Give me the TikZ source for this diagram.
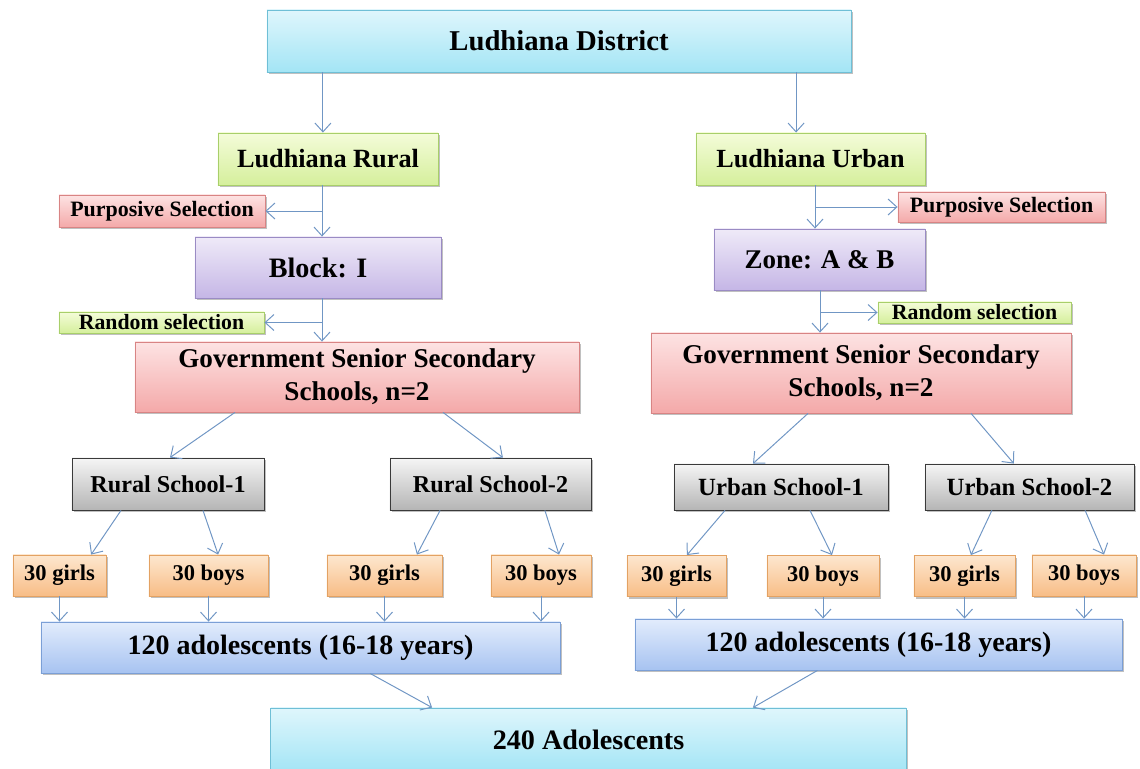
\documentclass[tikz,border=0pt]{standalone}
\usepackage{fontspec}
\setmainfont{Liberation Serif}
\usepackage{tikz}
\usetikzlibrary{arrows.meta,shadows}

\definecolor{arrcol}{RGB}{112,150,196}
\definecolor{cyanT}{HTML}{DFF6FC}\definecolor{cyanB}{HTML}{A3E5F5}\definecolor{cyanD}{HTML}{6FBFD6}
\definecolor{grnT}{HTML}{F4FCD9}\definecolor{grnB}{HTML}{D5EF9C}\definecolor{grnD}{HTML}{A8CF6A}
\definecolor{redT}{HTML}{FDE3E3}\definecolor{redB}{HTML}{F4A9A9}\definecolor{redD}{HTML}{D88484}
\definecolor{purT}{HTML}{EFEAF8}\definecolor{purB}{HTML}{C5B6E6}\definecolor{purD}{HTML}{9A8BC4}
\definecolor{gryT}{HTML}{F5F5F5}\definecolor{gryB}{HTML}{B5B5B5}\definecolor{gryD}{HTML}{3A3A3A}
\definecolor{orgT}{HTML}{FDE7CF}\definecolor{orgB}{HTML}{F8BD86}\definecolor{orgD}{HTML}{E3A263}
\definecolor{bluT}{HTML}{E2ECFC}\definecolor{bluB}{HTML}{A7C3F1}\definecolor{bluD}{HTML}{7B9FD6}

\begin{document}
\begin{tikzpicture}[
  x=0.025cm, y=-0.025cm,
  font=\bfseries,
  box/.style={rectangle, inner sep=0pt, align=center, line width=0.6pt,
    drop shadow={shadow xshift=1.6pt, shadow yshift=-1.6pt, fill=black!45, opacity=0.55}},
  cyanbox/.style={box, draw=cyanD, top color=cyanT, bottom color=cyanB},
  grnbox/.style={box, draw=grnD, top color=grnT, bottom color=grnB},
  redbox/.style={box, draw=redD, top color=redT, bottom color=redB},
  purbox/.style={box, draw=purD, top color=purT, bottom color=purB},
  grybox/.style={box, draw=gryD, top color=gryT, bottom color=gryB},
  orgbox/.style={box, draw=orgD, top color=orgT, bottom color=orgB},
  blubox/.style={box, draw=bluD, top color=bluT, bottom color=bluB},
  arr/.style={-{Straight Barb[length=2.2mm, width=4mm]}, arrcol, line width=0.7pt}
]
\useasboundingbox (0,0) rectangle (1140,769);

% top level
\node[cyanbox, minimum width=14.6cm, minimum height=1.55cm, font=\fontsize{20.4}{24}\selectfont\bfseries] (district) at (559,41) {Ludhiana District};
\node[grnbox, minimum width=5.5cm, minimum height=1.3cm, font=\fontsize{18.7}{22}\selectfont\bfseries] (rural) at (328,159) {Ludhiana Rural};
\node[grnbox, minimum width=5.725cm, minimum height=1.3cm, font=\fontsize{18.6}{22}\selectfont\bfseries] (urban) at (810.5,159) {Ludhiana Urban};

% selection steps
\node[redbox, minimum width=5.15cm, minimum height=0.8cm, font=\fontsize{15.6}{18}\selectfont\bfseries] (purpL) at (162,211) {Purposive Selection};
\node[purbox, minimum width=6.15cm, minimum height=1.525cm, font=\fontsize{20}{24}\selectfont\bfseries] (block) at (318,267.5) {Block: I};
\node[grnbox, minimum width=5.125cm, minimum height=0.525cm, font=\fontsize{15.5}{18}\selectfont\bfseries] (randL) at (161.5,322.5) {Random selection};
\node[redbox, minimum width=11.1cm, minimum height=1.75cm, font=\fontsize{19.3}{23.5}\selectfont\bfseries] (gsssL) at (357,377) {Government Senior Secondary\\Schools, n=2};

\node[redbox, minimum width=5.175cm, minimum height=0.75cm, font=\fontsize{15.6}{18}\selectfont\bfseries] (purpR) at (1001.5,207) {Purposive Selection};
\node[purbox, minimum width=5.275cm, minimum height=1.525cm, font=\fontsize{19.2}{23}\selectfont\bfseries] (zone) at (819.5,259.5) {Zone: A \& B};
\node[grnbox, minimum width=4.825cm, minimum height=0.525cm, font=\fontsize{15.5}{18}\selectfont\bfseries] (randR) at (974.5,312.5) {Random selection};
\node[redbox, minimum width=10.5cm, minimum height=2.0cm, font=\fontsize{19.3}{23.5}\selectfont\bfseries] (gsssR) at (861,373) {Government Senior Secondary\\Schools, n=2};

\coordinate (lcol) at (322,0);
\coordinate (rcolA) at (815,0);
\coordinate (rcolB) at (820,0);

\draw[arr] ([xshift=-5.9cm]district.south) -- ([xshift=-5.9cm]district.south |- rural.north);
\draw[arr] ([xshift=5.925cm]district.south) -- ([xshift=5.925cm]district.south |- urban.north);

\draw[arr] (rural.south -| lcol) -- (block.north -| lcol);
\draw[arr] (lcol |- purpL.east) -- (purpL.east);
\draw[arr] (block.south -| lcol) -- (gsssL.north -| lcol);
\draw[arr] (lcol |- randL.east) -- (randL.east);

\draw[arr] (urban.south -| rcolA) -- (zone.north -| rcolA);
\draw[arr] (rcolA |- purpR.west) -- (purpR.west);
\draw[arr] (zone.south -| rcolB) -- (gsssR.north -| rcolB);
\draw[arr] (rcolB |- randR.west) -- (randR.west);

% schools
\node[grybox, minimum width=4.8cm, minimum height=1.3cm, font=\fontsize{17.2}{20}\selectfont\bfseries] (rs1) at (168,484) {Rural School-1};
\node[grybox, minimum width=5.025cm, minimum height=1.3cm, font=\fontsize{17.2}{20}\selectfont\bfseries] (rs2) at (490.5,484) {Rural School-2};
\node[grybox, minimum width=5.35cm, minimum height=1.15cm, font=\fontsize{17.6}{20}\selectfont\bfseries] (us1) at (781,487) {Urban School-1};
\node[grybox, minimum width=5.225cm, minimum height=1.15cm, font=\fontsize{17.6}{20}\selectfont\bfseries] (us2) at (1029.5,487) {Urban School-2};

\draw[arr] ([xshift=-3.05cm]gsssL.south) -- ([xshift=0.05cm]rs1.north);
\draw[arr] ([xshift=2.15cm]gsssL.south) -- ([xshift=0.31cm]rs2.north);
\draw[arr] ([xshift=-1.325cm]gsssR.south) -- ([xshift=-0.7cm]us1.north);
\draw[arr] ([xshift=2.75cm]gsssR.south) -- ([xshift=-0.39cm]us2.north);

% girls and boys
\tikzset{gb/.style={orgbox, minimum height=1.025cm, font=\fontsize{16}{18}\selectfont\bfseries}}
\node[gb, minimum width=2.325cm] (g1) at (59.5,575.5) {30 girls};
\node[gb, minimum width=2.975cm] (b1) at (208.5,575.5) {30 boys};
\node[gb, minimum width=2.875cm] (g2) at (384.5,575.5) {30 girls};
\node[gb, minimum width=2.5cm] (b2) at (541,575.5) {30 boys};
\node[gb, minimum width=2.475cm] (g3) at (676.5,576) {30 girls};
\node[gb, minimum width=2.8cm] (b3) at (823,576) {30 boys};
\node[gb, minimum width=2.525cm] (g4) at (964.5,576) {30 girls};
\node[gb, minimum width=2.6cm] (b4) at (1084,575.5) {30 boys};

\draw[arr] ([xshift=-1.175cm]rs1.south) -- ([xshift=0.79cm]g1.north);
\draw[arr] ([xshift=0.875cm]rs1.south) -- ([xshift=0.24cm]b1.north);
\draw[arr] ([xshift=-1.26cm]rs2.south) -- ([xshift=0.81cm]g2.north);
\draw[arr] ([xshift=1.36cm]rs2.south) -- ([xshift=0.45cm]b2.north);
\draw[arr] ([xshift=-1.4cm]us1.south) -- ([xshift=0.26cm]g3.north);
\draw[arr] ([xshift=0.725cm]us1.south) -- ([xshift=0.225cm]b3.north);
\draw[arr] ([xshift=-0.94cm]us2.south) -- ([xshift=0.16cm]g4.north);
\draw[arr] ([xshift=1.39cm]us2.south) -- ([xshift=0.5cm]b4.north);

% totals
\node[blubox, minimum width=12.975cm, minimum height=1.275cm, font=\fontsize{19.9}{23}\selectfont\bfseries] (adoL) at (300.5,647.5) {120 adolescents (16-18 years)};
\node[blubox, minimum width=12.175cm, minimum height=1.275cm, font=\fontsize{19.9}{23}\selectfont\bfseries] (adoR) at (878.5,644.5) {120 adolescents (16-18 years)};

\foreach \s in {g1,b1,g2,b2}
  \draw[arr] (\s.south) -- (\s.south |- adoL.north);
\foreach \s in {g3,b3,g4,b4}
  \draw[arr] (\s.south) -- (\s.south |- adoR.north);

\node[cyanbox, minimum width=15.875cm, minimum height=1.6cm, font=\fontsize{20}{24}\selectfont\bfseries] (total) at (588.5,740) {240 Adolescents};

\draw[arr] ([xshift=1.74cm]adoL.south) -- ([xshift=-3.91cm]total.north);
\draw[arr] ([xshift=-1.525cm]adoR.south) -- ([xshift=4.11cm]total.north);
\end{tikzpicture}
\end{document}
